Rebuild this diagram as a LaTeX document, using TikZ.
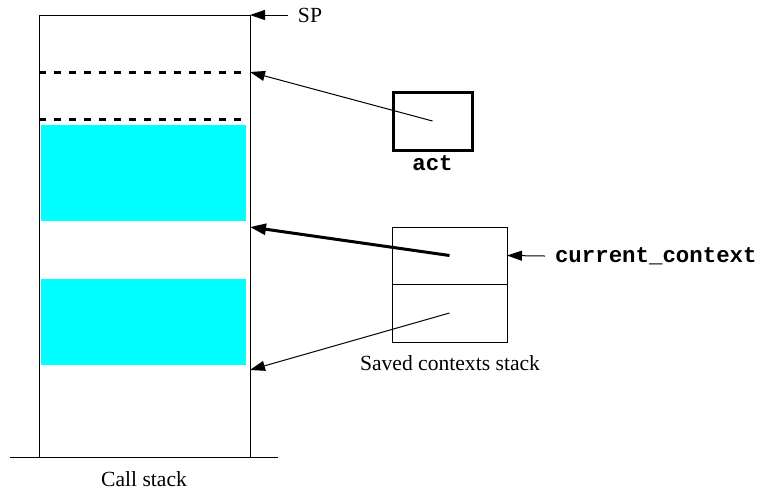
\documentclass[tikz,border=0pt]{standalone}
\usepackage{fontspec}
\setmainfont{Liberation Serif}
\setmonofont{Liberation Mono}
\usetikzlibrary{arrows.meta}

\newlength{\du}
\setlength{\du}{0.5pt}
\definecolor{framecolor}{rgb}{0.000000, 1.000000, 1.000000}

\tikzset{
  stackbox/.style={draw=black, line width=1\du, inner sep=0pt, outer sep=0pt},
  cellbox/.style={draw=black, line width=1\du, inner sep=0pt, outer sep=0pt,
    minimum width=115\du},
  actbox/.style={draw=black, line width=3\du, inner sep=0pt, outer sep=0pt,
    minimum width=79\du, minimum height=58\du},
  slotline/.style={line width=3\du, dash pattern=on 7\du off 8\du},
  frame/.style={fill=framecolor, draw=none},
  ptr/.style={line width=1\du, -{Triangle[length=7.5pt, width=5pt]}},
  bigptr/.style={line width=3\du, -{Triangle[length=8pt, width=5.5pt]}},
  caption/.style={font=\fontsize{10.8}{13}\selectfont, inner sep=0pt},
  varname/.style={font=\fontsize{11.2}{13}\selectfont\ttfamily\bfseries, inner sep=0pt},
  gap/.style={outer sep=5pt}
}

\begin{document}
\begin{tikzpicture}
\pgftransformxscale{1.000000}
\pgftransformyscale{-1.000000}
\useasboundingbox (0\du,0\du) rectangle (768\du,495\du);
% call stack frames
\fill[frame] (41\du,125\du) rectangle (246\du,221\du);
\fill[frame] (41\du,279\du) rectangle (246\du,365\du);
\node[stackbox, minimum width=211\du, minimum height=442\du] (stack) at (144.5\du,236\du) {};
\draw[line width=1\du] (10\du,457\du) -- (278\du,457\du);
\draw[slotline] (39\du,72\du) -- (247\du,72\du);
\draw[slotline] (39\du,119\du) -- (247\du,119\du);
\node[caption] (callname) at (144\du,479\du) {Call stack};
% points on the stack edge
\coordinate (sptop) at (stack.north east);
\coordinate (actslot) at (250\du,72\du);
\coordinate (curslot) at (250\du,227\du);
\coordinate (savedslot) at (250\du,370\du);
% stack pointer
\node[caption, anchor=west, gap] (sp) at (288\du,15\du) {SP};
\draw[ptr] (sp.west) -- (sptop);
% act
\node[actbox] (act) at (432.5\du,121\du) {};
\node[varname] (actname) at (432.5\du,163\du) {act};
\draw[ptr] (act.center) -- (actslot);
% saved contexts
\node[cellbox, minimum height=57\du] (cur) at (449.5\du,255.5\du) {};
\node[cellbox, minimum height=58\du] (saved) at (449.5\du,313\du) {};
\node[caption] (savedname) at (450\du,363\du) {Saved contexts stack};
\draw[bigptr] (cur.center) -- (curslot);
\draw[ptr] (saved.center) -- (savedslot);
\node[varname, anchor=west, gap] (curname) at (545\du,256\du) {current\_context};
\draw[ptr] (curname.west) -- (cur.east);
\end{tikzpicture}
\end{document}
